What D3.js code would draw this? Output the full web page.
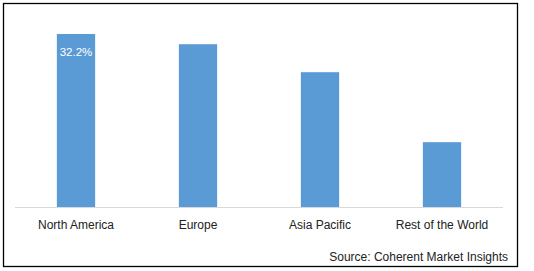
<!DOCTYPE html>
<html>
<head>
<meta charset="utf-8">
<script src="https://cdn.jsdelivr.net/npm/d3@7"></script>
<style>
  html, body { margin: 0; padding: 0; background: #fff; }
  svg { display: block; }
  text { font-family: "Liberation Sans", Arial, sans-serif; }
</style>
</head>
<body>
<svg id="chart" width="534" height="271"></svg>
<script>
const categories = ["North America", "Europe", "Asia Pacific", "Rest of the World"];
const values = [32.2, 30.3, 25.1, 12.1];
const valueLabels = ["32.2%", "", "", ""];
const sourceText = "Source: Coherent Market Insights";

const svg = d3.select("#chart");
const W = 534, H = 271;

svg.append("rect")
  .attr("x", 3.5).attr("y", 3.5)
  .attr("width", 514).attr("height", 263)
  .attr("fill", "#fff").attr("stroke", "#000").attr("stroke-width", 1.3);

const x = d3.scaleBand()
  .domain(categories)
  .range([15, 503])
  .paddingInner(0.686)
  .paddingOuter(0.343);

const y = d3.scaleLinear()
  .domain([0, 35])
  .range([207.3, 18.9]);

svg.append("g")
  .selectAll("rect")
  .data(categories)
  .join("rect")
  .attr("x", d => x(d))
  .attr("width", x.bandwidth())
  .attr("y", (d, i) => y(values[i]))
  .attr("height", (d, i) => y(0) - y(values[i]))
  .attr("fill", "#5B9BD5");

// baseline
svg.append("line")
  .attr("x1", 15).attr("x2", 503)
  .attr("y1", Math.round(y(0)) + 0.5).attr("y2", Math.round(y(0)) + 0.5)
  .attr("stroke", "#D9D9D9").attr("stroke-width", 1);

// category axis
const axis = d3.axisBottom(x).tickSize(0).tickPadding(0);
const ag = svg.append("g").attr("transform", `translate(0, ${y(0)})`).call(axis);
ag.select(".domain").remove();
ag.selectAll("text")
  .attr("y", 22)
  .attr("dy", 0)
  .attr("font-size", 12)
  .attr("font-family", "\"Liberation Sans\", Arial, sans-serif")
  .attr("fill", "#222");

// value labels
svg.append("g")
  .selectAll("text")
  .data(categories)
  .join("text")
  .attr("x", d => x(d) + x.bandwidth() / 2)
  .attr("y", (d, i) => y(values[i]) + 22.5)
  .attr("text-anchor", "middle")
  .attr("font-size", 11.5)
  .attr("fill", "#fff")
  .text((d, i) => valueLabels[i]);

svg.append("text")
  .attr("x", 508).attr("y", 261)
  .attr("text-anchor", "end")
  .attr("font-size", 12)
  .attr("fill", "#222")
  .text(sourceText);
</script>
</body>
</html>
